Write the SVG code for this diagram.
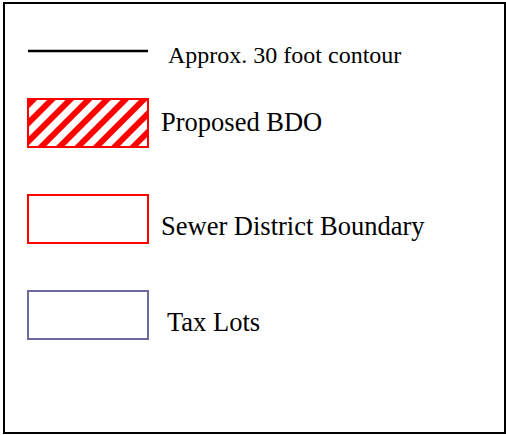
<svg xmlns="http://www.w3.org/2000/svg" width="506" height="435" viewBox="0 0 506 435">
<style>
text{font-family:"Liberation Serif","Times New Roman",serif;fill:#000}
.lbl{font-size:26.5px}
.small{font-size:24px}
</style>
<defs>
<pattern id="hatch" patternUnits="userSpaceOnUse" width="13" height="13" patternTransform="rotate(45)">
<rect width="13" height="13" fill="#fff"/>
<rect width="6" height="13" fill="#f00"/>
</pattern>
</defs>
<rect x="4" y="3" width="501" height="430" fill="#fff" stroke="#000" stroke-width="2"/>
<g id="contour">
<line x1="28" y1="51" x2="148" y2="51" stroke="#000" stroke-width="2.5"/>
<text class="small" x="168" y="63">Approx. 30 foot contour</text>
</g>
<g id="bdo">
<rect x="28" y="99" width="120" height="48" fill="url(#hatch)" stroke="#f00" stroke-width="2"/>
<text class="lbl" x="161" y="131">Proposed BDO</text>
</g>
<g id="sewer">
<rect x="28" y="195" width="120" height="48" fill="none" stroke="#f00" stroke-width="2"/>
<text class="lbl" x="161" y="235">Sewer District Boundary</text>
</g>
<g id="taxlots">
<rect x="28" y="291" width="120" height="48" fill="none" stroke="#6b6b9e" stroke-width="2"/>
<text class="lbl" x="167" y="331">Tax Lots</text>
</g>
<g id="connectors"/>
</svg>
